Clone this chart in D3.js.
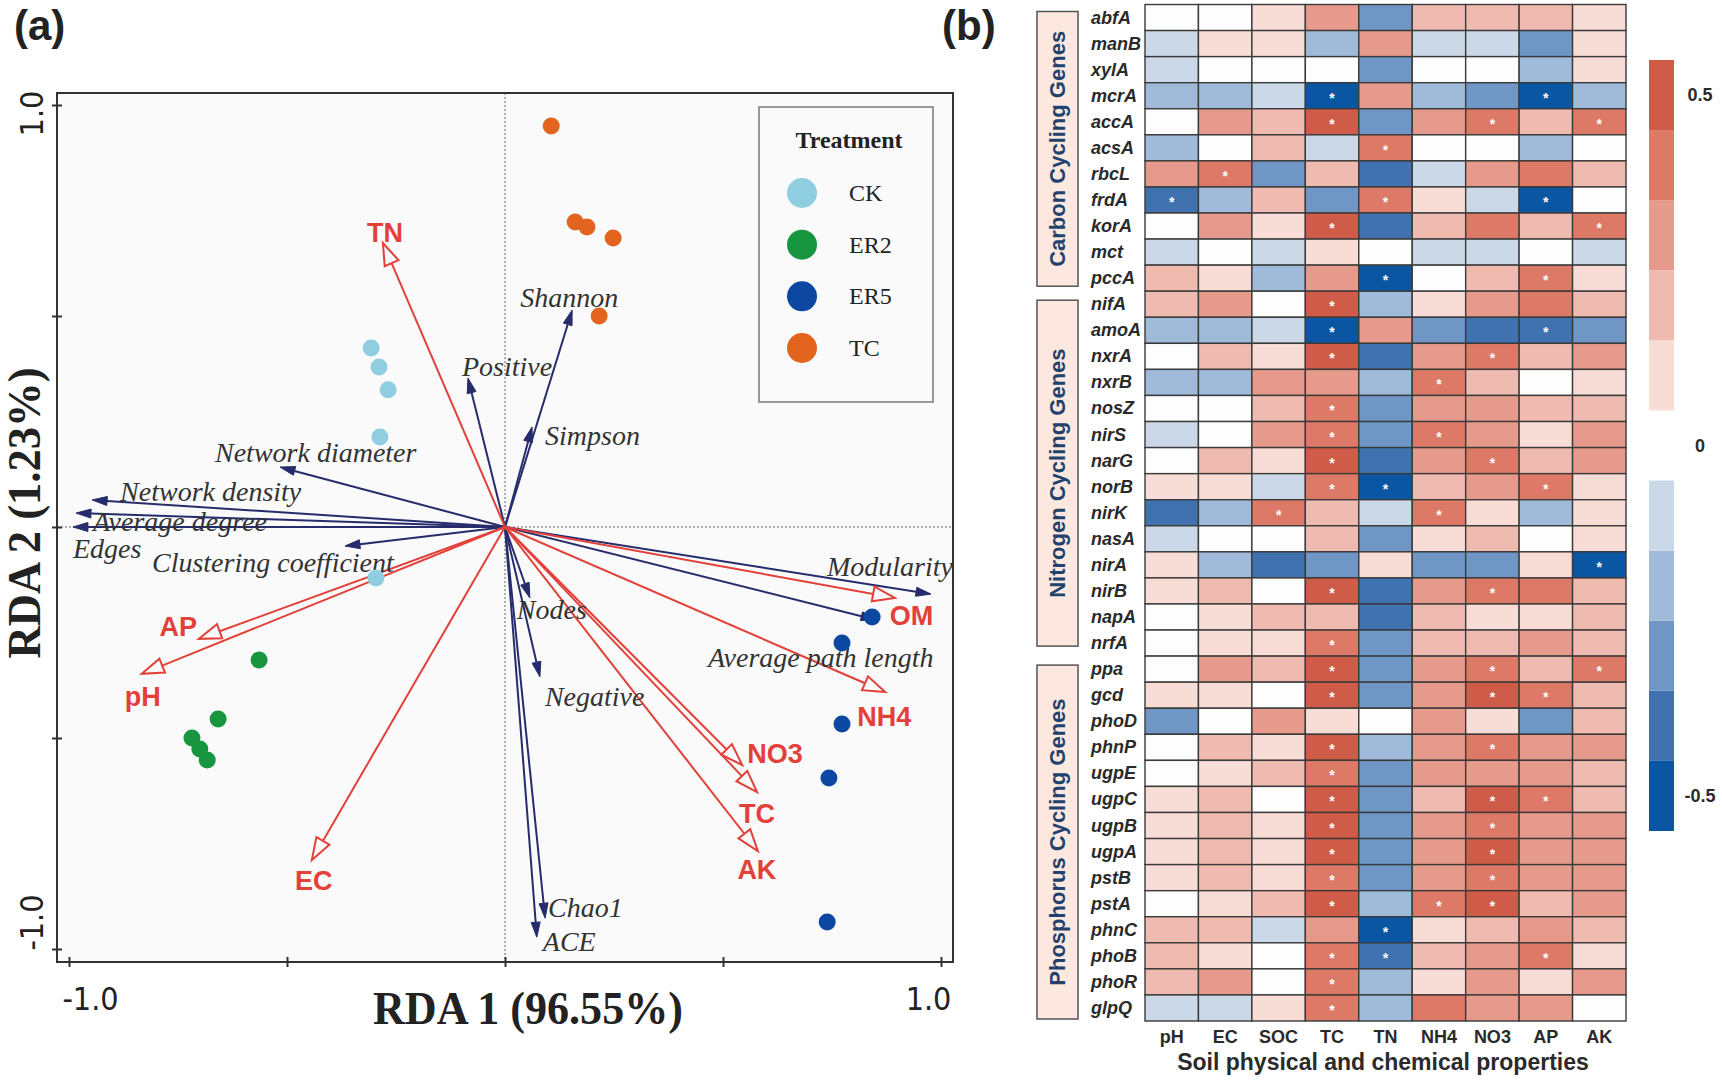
<!DOCTYPE html>
<html><head><meta charset="utf-8">
<script src="https://cdn.jsdelivr.net/npm/d3@7"></script>
<style>body{margin:0;background:#fff}svg{display:block}</style>
</head><body>
<svg id="c" width="1722" height="1080"></svg>
<script>
// ================= DATA =================
// Panel (a): RDA sample scores
const treatments = ["CK", "ER2", "ER5", "TC"];
const treatmentColors = ["#8fcde0", "#17963f", "#0c48a1", "#e2641f"];
const ckScores  = [[-0.307, 0.424], [-0.289, 0.379], [-0.268, 0.325], [-0.287, 0.213], [-0.296, -0.121]];
const er2Scores = [[-0.564, -0.315], [-0.658, -0.455], [-0.718, -0.500], [-0.700, -0.526], [-0.683, -0.552]];
const er5Scores = [[0.842, -0.213], [0.773, -0.275], [0.773, -0.467], [0.743, -0.595], [0.739, -0.936]];
const tcScores  = [[0.106, 0.950], [0.161, 0.723], [0.188, 0.711], [0.248, 0.685], [0.216, 0.500]];

// Environmental (soil) vectors
const envNames = ["TN", "AP", "pH", "EC", "OM", "NH4", "NO3", "TC", "AK"];
const envX = [-0.280, -0.702, -0.833, -0.443, 0.894, 0.872, 0.544, 0.578, 0.580];
const envY = [0.673, -0.265, -0.348, -0.789, -0.168, -0.391, -0.564, -0.628, -0.768];

// Response (network / diversity) vectors
const netNames = ["Shannon", "Positive", "Simpson", "Network diameter", "Network density", "Average degree",
  "Edges", "Clustering coefficient", "Modularity", "Average path length", "Nodes", "Negative", "Chao1", "ACE"];
const netX = [0.154, -0.085, 0.062, -0.516, -0.947, -0.984, -0.991, -0.367, 0.977, 0.851, 0.057, 0.080, 0.092, 0.073];
const netY = [0.514, 0.353, 0.237, 0.142, 0.064, 0.033, 0.000, -0.045, -0.159, -0.220, -0.168, -0.355, -0.927, -0.972];

const xTicks = [-1, -0.5, 0, 0.5, 1];
const xTickLabels = ["-1.0", "", "", "", "1.0"];
const yTicks = [-1, -0.5, 0, 0.5, 1];
const yTickLabels = ["-1.0", "", "", "", "1.0"];
const xTitle = "RDA 1 (96.55%)";
const yTitle = "RDA 2 (1.23%)";

// Panel (b): correlation heatmap
const soilProps = ["pH", "EC", "SOC", "TC", "TN", "NH4", "NO3", "AP", "AK"];
const groupNames = ["Carbon Cycling Genes", "Nitrogen Cycling Genes", "Phosphorus Cycling Genes"];
const carbonGenes = ["abfA", "manB", "xylA", "mcrA", "accA", "acsA", "rbcL", "frdA", "korA", "mct", "pccA"];
const nitrogenGenes = ["nifA", "amoA", "nxrA", "nxrB", "nosZ", "nirS", "narG", "norB", "nirK", "nasA", "nirA", "nirB", "napA", "nrfA"];
const phosphorusGenes = ["ppa", "gcd", "phoD", "phnP", "ugpE", "ugpC", "ugpB", "ugpA", "pstB", "pstA", "phnC", "phoB", "phoR", "glpQ"];
//            pH    EC   SOC    TC    TN   NH4   NO3    AP    AK
const corrValues = [
  [0.0, 0.0, 0.1, 0.3, -0.3, 0.2, 0.2, 0.2, 0.1],     // abfA
  [-0.1, 0.1, 0.1, -0.2, 0.3, -0.1, -0.1, -0.3, 0.1], // manB
  [-0.1, 0.0, 0.0, 0.0, -0.3, 0.0, 0.0, -0.2, 0.1],   // xylA
  [-0.2, -0.2, -0.1, -0.5, 0.3, -0.2, -0.3, -0.5, -0.2], // mcrA
  [0.0, 0.3, 0.2, 0.5, -0.3, 0.3, 0.4, 0.2, 0.4],     // accA
  [-0.2, 0.0, 0.2, -0.1, 0.4, 0.0, 0.0, -0.2, 0.0],   // acsA
  [0.3, 0.4, -0.3, 0.2, -0.4, -0.1, 0.3, 0.4, 0.2],   // rbcL
  [-0.4, -0.2, 0.2, -0.3, 0.4, 0.1, -0.1, -0.5, 0.0], // frdA
  [0.0, 0.3, 0.1, 0.5, -0.4, 0.2, 0.4, 0.2, 0.4],     // korA
  [-0.1, 0.0, -0.1, 0.1, 0.0, -0.1, -0.1, 0.0, -0.1], // mct
  [0.2, 0.1, -0.2, 0.3, -0.5, 0.0, 0.2, 0.4, 0.1],    // pccA
  [0.2, 0.3, 0.0, 0.5, -0.2, 0.1, 0.3, 0.4, 0.2],     // nifA
  [-0.2, -0.2, -0.1, -0.5, 0.3, -0.3, -0.4, -0.4, -0.3], // amoA
  [0.0, 0.2, 0.1, 0.5, -0.4, 0.3, 0.4, 0.2, 0.3],     // nxrA
  [-0.2, -0.2, 0.3, 0.3, -0.2, 0.4, 0.2, 0.0, 0.1],   // nxrB
  [0.0, 0.0, 0.2, 0.4, -0.3, 0.3, 0.3, 0.2, 0.2],     // nosZ
  [-0.1, 0.0, 0.3, 0.4, -0.3, 0.4, 0.3, 0.1, 0.3],    // nirS
  [0.0, 0.2, 0.1, 0.5, -0.4, 0.3, 0.4, 0.2, 0.3],     // narG
  [0.1, 0.1, -0.1, 0.4, -0.5, 0.2, 0.3, 0.4, 0.1],    // norB
  [-0.4, -0.2, 0.4, 0.2, -0.1, 0.4, 0.1, -0.2, 0.1],  // nirK
  [-0.1, 0.0, 0.0, 0.2, -0.3, 0.1, 0.2, 0.0, 0.1],    // nasA
  [0.1, -0.2, -0.4, -0.3, 0.1, -0.3, -0.3, 0.1, -0.5], // nirA
  [0.1, 0.2, 0.0, 0.5, -0.4, 0.3, 0.4, 0.4, 0.2],     // nirB
  [0.0, 0.1, 0.2, 0.2, -0.4, 0.2, 0.1, 0.1, 0.2],     // napA
  [0.0, 0.1, 0.1, 0.4, -0.3, 0.2, 0.2, 0.3, 0.2],     // nrfA
  [0.0, 0.3, 0.2, 0.5, -0.3, 0.3, 0.4, 0.2, 0.4],     // ppa
  [0.1, 0.1, 0.0, 0.5, -0.3, 0.3, 0.5, 0.4, 0.2],     // gcd
  [-0.3, 0.0, 0.3, 0.1, 0.0, 0.3, 0.1, -0.3, 0.2],    // phoD
  [0.0, 0.2, 0.1, 0.5, -0.2, 0.3, 0.4, 0.3, 0.3],     // phnP
  [0.0, 0.1, 0.2, 0.4, -0.3, 0.3, 0.3, 0.3, 0.2],     // ugpE
  [0.1, 0.2, 0.0, 0.5, -0.3, 0.2, 0.5, 0.4, 0.2],     // ugpC
  [0.1, 0.2, 0.1, 0.5, -0.3, 0.3, 0.4, 0.3, 0.3],     // ugpB
  [0.1, 0.2, 0.1, 0.5, -0.3, 0.3, 0.5, 0.3, 0.3],     // ugpA
  [0.1, 0.2, 0.1, 0.4, -0.3, 0.3, 0.4, 0.3, 0.3],     // pstB
  [0.0, 0.1, 0.2, 0.5, -0.2, 0.4, 0.5, 0.2, 0.3],     // pstA
  [0.2, 0.2, -0.1, 0.3, -0.5, 0.1, 0.2, 0.3, 0.2],    // phnC
  [0.2, 0.1, 0.0, 0.4, -0.4, 0.2, 0.3, 0.4, 0.1],     // phoB
  [0.2, 0.3, 0.0, 0.4, -0.2, 0.1, 0.3, 0.1, 0.3],     // phoR
  [-0.1, -0.1, 0.1, 0.4, -0.2, 0.4, 0.3, 0.3, 0.0]    // glpQ
];
// significant cells (marked with *), listed per gene row
const sigMarks = [
  "", "", "", "TC AP", "TC NO3 AK", "TN", "EC", "pH TN AP", "TC AK", "", "TN AP",
  "TC", "TC AP", "TC NO3", "NH4", "TC", "TC NH4", "TC NO3", "TC TN AP", "SOC NH4", "", "AK", "TC NO3", "", "TC",
  "TC NO3 AK", "TC NO3 AP", "", "TC NO3", "TC", "TC NO3 AP", "TC NO3", "TC NO3", "TC NO3", "TC NH4 NO3", "TN", "TC TN AP", "TC", "TC"
];
const colorLevels = [-5, -4, -3, -2, -1, 0, 1, 2, 3, 4, 5];
const levelColors = ["#0b56a3", "#3f72ae", "#6f96c5", "#a0bbda", "#cbd8e7", "#fdfdfd",
                     "#f8ddd7", "#efbbb1", "#e69a8b", "#dc7a67", "#cf5c48"];
const cbTicks = [0.5, 0, -0.5];
const cbTickLabels = ["0.5", "0", "-0.5"];
const heatXTitle = "Soil physical and chemical properties";

// ================= LAYOUT / STYLE =================
const SERIF = "'Liberation Serif','Times New Roman',serif";
const SANS = "'Liberation Sans',Arial,Helvetica,sans-serif";
const NARROW = "'Liberation Sans Narrow','Arial Narrow','DejaVu Sans Condensed','Liberation Sans',sans-serif";
const RED = "#e3403a", NAVY = "#262c6b";
const svg = d3.select("#c");

// label placement relative to arrow tips (pixels)
const envLabelPos = {
  TN: [2, -1, "middle"], AP: [-2, -3, "end"], pH: [1, 32, "middle"], EC: [2, 30, "middle"],
  OM: [-5, 27, "start"], NH4: [-28, 34, "start"], NO3: [5, -2, "start"], TC: [0, 31, "middle"], AK: [-1, 28, "middle"]
};
const netLabelPos = {
  "Shannon": [-52, -3, "start"], "Positive": [-6, -2, "start"], "Simpson": [13, 18, "start"],
  "Network diameter": [-65, -5, "start"], "Network density": [28, 1, "start"], "Average degree": [17, 18, "start"],
  "Edges": [0, 31, "start"], "Clustering coefficient": [-193, 26, "start"], "Modularity": [22, -18, "end"],
  "Average path length": [-168, 47, "start"], "Nodes": [-13, 21, "start"], "Negative": [5, 29, "start"],
  "Chao1": [3, -1, "start"], "ACE": [6, 14, "start"]
};

// ================= PANEL (a) =================
const box = { l: 57, r: 953, t: 93, b: 962 };
const xS = d3.scaleLinear().domain([-1, 1]).range([69, 941]);
const yS = d3.scaleLinear().domain([-1, 1]).range([949, 105]);

svg.append("text").text("(a)").attr("x", 14).attr("y", 40)
  .attr("font-family", SANS).attr("font-weight", "bold").attr("font-size", 42).attr("fill", "#222");

svg.append("rect").attr("x", box.l).attr("y", box.t).attr("width", box.r - box.l).attr("height", box.b - box.t)
  .attr("fill", "#fafafa");

svg.append("line").attr("x1", xS(0)).attr("x2", xS(0)).attr("y1", box.t).attr("y2", box.b)
  .attr("stroke", "#666").attr("stroke-width", 1).attr("stroke-dasharray", "2,2");
svg.append("line").attr("x1", box.l).attr("x2", box.r).attr("y1", yS(0)).attr("y2", yS(0))
  .attr("stroke", "#666").attr("stroke-width", 1).attr("stroke-dasharray", "2,2");

function arrow(g, x0, y0, x1, y1, len, wid, color, fill, headStroke) {
  const dx = x1 - x0, dy = y1 - y0, L = Math.hypot(dx, dy), ux = dx / L, uy = dy / L;
  const bx = x1 - ux * len, by = y1 - uy * len, px = -uy * wid / 2, py = ux * wid / 2;
  g.append("line").attr("x1", x0).attr("y1", y0).attr("x2", bx).attr("y2", by)
    .attr("stroke", color).attr("stroke-width", 2);
  g.append("path").attr("d", `M${x1},${y1}L${bx + px},${by + py}L${bx - px},${by - py}Z`)
    .attr("fill", fill).attr("stroke", color).attr("stroke-width", headStroke).attr("stroke-linejoin", "miter");
}

const ox = xS(0), oy = yS(0);
const gNet = svg.append("g");
netNames.forEach((n, i) => arrow(gNet, ox, oy, xS(netX[i]), yS(netY[i]), 15, 9, NAVY, NAVY, 1));
const gEnv = svg.append("g");
envNames.forEach((n, i) => arrow(gEnv, ox, oy, xS(envX[i]), yS(envY[i]), 22, 15, RED, "#fafafa", 2));

netNames.forEach((n, i) => {
  const p = netLabelPos[n];
  svg.append("text").text(n).attr("x", xS(netX[i]) + p[0]).attr("y", yS(netY[i]) + p[1])
    .attr("text-anchor", p[2]).attr("font-family", SERIF).attr("font-style", "italic")
    .attr("font-size", 28).attr("fill", "#333");
});
envNames.forEach((n, i) => {
  const p = envLabelPos[n];
  svg.append("text").text(n).attr("x", xS(envX[i]) + p[0]).attr("y", yS(envY[i]) + p[1])
    .attr("text-anchor", p[2]).attr("font-family", SANS).attr("font-weight", "bold")
    .attr("font-size", 27).attr("fill", RED);
});

const allScores = [ckScores, er2Scores, er5Scores, tcScores];
allScores.forEach((arr, ti) => {
  svg.append("g").selectAll("circle").data(arr).join("circle")
    .attr("cx", d => xS(d[0])).attr("cy", d => yS(d[1])).attr("r", 8.5)
    .attr("fill", treatmentColors[ti]);
});

// legend
const lg = svg.append("g");
lg.append("rect").attr("x", 759).attr("y", 107).attr("width", 174).attr("height", 295)
  .attr("fill", "#fafafa").attr("stroke", "#7a7a7a").attr("stroke-width", 1.5);
lg.append("text").text("Treatment").attr("x", 849).attr("y", 148).attr("text-anchor", "middle")
  .attr("font-family", SERIF).attr("font-weight", "bold").attr("font-size", 24).attr("fill", "#222");
const legY = d3.scaleLinear().domain([0, treatments.length - 1]).range([193, 348]);
treatments.forEach((t, i) => {
  lg.append("circle").attr("cx", 802).attr("cy", legY(i)).attr("r", 15).attr("fill", treatmentColors[i]);
  lg.append("text").text(t).attr("x", 849).attr("y", legY(i) + 8)
    .attr("font-family", SERIF).attr("font-size", 24).attr("fill", "#222");
});

// frame
svg.append("rect").attr("x", box.l).attr("y", box.t).attr("width", box.r - box.l).attr("height", box.b - box.t)
  .attr("fill", "none").attr("stroke", "#333").attr("stroke-width", 2);

// axes
const xShift = [21, 0, 0, 0, -13];
const gx = svg.append("g").attr("transform", `translate(0,${box.b - 5})`)
  .call(d3.axisBottom(xS).tickValues(xTicks).tickSize(10).tickFormat((d, i) => xTickLabels[i]));
gx.select(".domain").remove();
gx.selectAll("line").attr("stroke", "#333").attr("stroke-width", 2);
gx.selectAll("text").attr("y", 53).attr("dy", 0).attr("dx", (d, i) => xShift[i])
  .attr("font-family", NARROW).attr("font-size", 32).attr("fill", "#222");

const yShift = [27, 0, 0, 0, -8];
const gy = svg.append("g").attr("transform", `translate(${box.l + 5},0)`)
  .call(d3.axisLeft(yS).tickValues(yTicks).tickSize(10).tickFormat((d, i) => yTickLabels[i]));
gy.select(".domain").remove();
gy.selectAll("line").attr("stroke", "#333").attr("stroke-width", 2);
gy.selectAll("text").attr("transform", "rotate(-90)").attr("x", (d, i) => yShift[i]).attr("y", -19)
  .attr("dy", 0).attr("text-anchor", "middle")
  .attr("font-family", NARROW).attr("font-size", 32).attr("fill", "#222");

svg.append("text").text(xTitle).attr("x", 528).attr("y", 1024).attr("text-anchor", "middle")
  .attr("font-family", SERIF).attr("font-weight", "bold").attr("font-size", 46).attr("fill", "#222")
  .attr("textLength", 310).attr("lengthAdjust", "spacingAndGlyphs");
svg.append("text").text(yTitle).attr("transform", "translate(40,513) rotate(-90)").attr("text-anchor", "middle")
  .attr("font-family", SERIF).attr("font-weight", "bold").attr("font-size", 46).attr("fill", "#222")
  .attr("textLength", 291).attr("lengthAdjust", "spacingAndGlyphs");

// ================= PANEL (b) =================
svg.append("text").text("(b)").attr("x", 942).attr("y", 40)
  .attr("font-family", SANS).attr("font-weight", "bold").attr("font-size", 42).attr("fill", "#222");

const genes = carbonGenes.concat(nitrogenGenes, phosphorusGenes);
const colX = d3.scaleBand().domain(soilProps).range([1145, 1626]);
const rowY = d3.scaleBand().domain(genes).range([4.5, 1021]);
const color = d3.scaleOrdinal().domain(colorLevels).range(levelColors);

const cells = [];
genes.forEach((g, r) => soilProps.forEach((p, c) => {
  cells.push({ gene: g, prop: p, v: corrValues[r][c], sig: sigMarks[r].split(" ").includes(p) });
}));
const gh = svg.append("g");
gh.selectAll("rect").data(cells).join("rect")
  .attr("x", d => colX(d.prop)).attr("y", d => rowY(d.gene))
  .attr("width", colX.bandwidth()).attr("height", rowY.bandwidth())
  .attr("fill", d => color(Math.round(d.v * 10)))
  .attr("stroke", "#3a3a3a").attr("stroke-width", 1.4);
gh.selectAll("text").data(cells.filter(d => d.sig)).join("text")
  .text("*").attr("x", d => colX(d.prop) + colX.bandwidth() / 2)
  .attr("y", d => rowY(d.gene) + rowY.bandwidth() / 2 + 7)
  .attr("text-anchor", "middle").attr("font-family", SANS).attr("font-size", 14)
  .attr("font-weight", "bold").attr("fill", "#fff");

// gene labels
svg.append("g").selectAll("text").data(genes).join("text").text(d => d)
  .attr("x", 1091).attr("y", d => rowY(d) + rowY.bandwidth() / 2 + 6)
  .attr("font-family", SANS).attr("font-weight", "bold").attr("font-style", "italic")
  .attr("font-size", 18).attr("fill", "#2a2a2a");

// group boxes
const groups = [carbonGenes, nitrogenGenes, phosphorusGenes];
const groupInset = [[7, 5], [9, 10], [9, 2]];
groups.forEach((gl, i) => {
  const y0 = rowY(gl[0]) + groupInset[i][0];
  const y1 = rowY(gl[gl.length - 1]) + rowY.bandwidth() - groupInset[i][1];
  svg.append("rect").attr("x", 1037).attr("y", y0).attr("width", 41).attr("height", y1 - y0)
    .attr("fill", "#fce8df").attr("stroke", "#555").attr("stroke-width", 1.5);
  svg.append("text").text(groupNames[i])
    .attr("transform", `translate(1065,${(y0 + y1) / 2}) rotate(-90)`).attr("text-anchor", "middle")
    .attr("font-family", SANS).attr("font-weight", "bold").attr("font-size", 22).attr("fill", "#22426e");
});

// column labels + title
svg.append("g").selectAll("text").data(soilProps).join("text").text(d => d)
  .attr("x", d => colX(d) + colX.bandwidth() / 2).attr("y", 1043).attr("text-anchor", "middle")
  .attr("font-family", SANS).attr("font-weight", "bold").attr("font-size", 18).attr("fill", "#2a2a2a");
svg.append("text").text(heatXTitle).attr("x", 1383).attr("y", 1070).attr("text-anchor", "middle")
  .attr("font-family", SANS).attr("font-weight", "bold").attr("font-size", 23).attr("fill", "#2a2a2a");

// colour bar
const cbY = d3.scaleLinear().domain([0.55, -0.55]).range([60, 831]);
const cbLevels = colorLevels.filter(l => l !== 0);
svg.append("g").selectAll("rect").data(cbLevels).join("rect")
  .attr("x", 1649).attr("width", 25)
  .attr("y", d => cbY(d / 10 + 0.05)).attr("height", d => cbY(d / 10 - 0.05) - cbY(d / 10 + 0.05))
  .attr("fill", d => color(d));
svg.append("g").selectAll("text").data(cbTicks).join("text").text((d, i) => cbTickLabels[i])
  .attr("x", 1700).attr("y", d => cbY(d) + 6).attr("text-anchor", "middle")
  .attr("font-family", SANS).attr("font-weight", "bold").attr("font-size", 18).attr("fill", "#2a2a2a");
</script>
</body></html>
